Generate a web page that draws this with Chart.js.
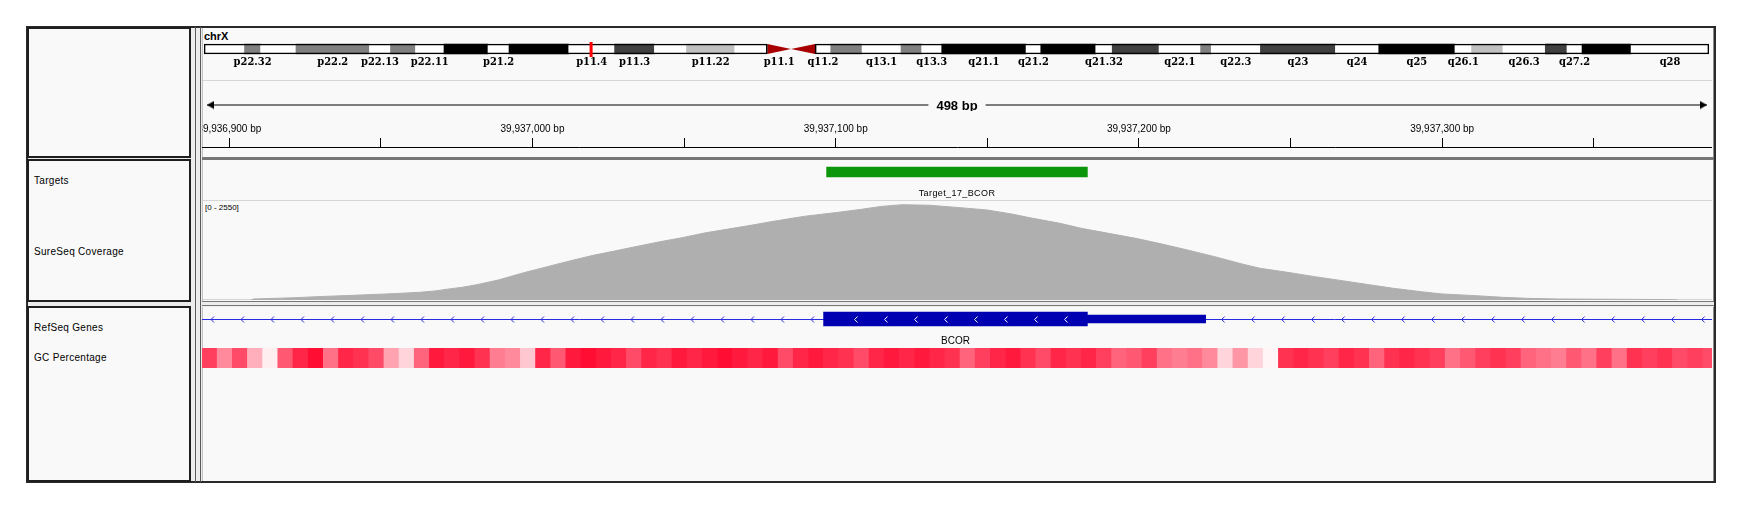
<!DOCTYPE html>
<html lang="en">
<head>
<meta charset="UTF-8" />
<title>BCOR chrX:39,936,891-39,937,389</title>
<style>
  * { box-sizing: border-box; margin: 0; padding: 0; }
  html, body { width: 1741px; height: 510px; background: #fff; overflow: hidden; }
  body { position: relative; font-family: "Liberation Sans", Arial, sans-serif; color: #000; }
  .abs, canvas { position: absolute; }
  .frame { left: 26px; top: 26px; width: 1690px; height: 457px; border: 2px solid #2a2a2a; background: #ececec; }
  .names { left: 27px; width: 164px; border: 2px solid #1e1e1e; background: #f9f9f9; }
  .vline { top: 27px; width: 1px; height: 455px; background: #5a5a5a; }
  .data { left: 202px; width: 1512px; background: #f9f9f9; border-left: 1px solid #c4c4c4; border-right: 1px solid #8a8a8a; }
  .hsep { left: 202px; width: 1512px; background: #767676; }
  .thin { left: 203px; width: 1509px; height: 1px; background: #d6d6d6; }
  .lbl { left: 34px; font-size: 10px; letter-spacing: 0.3px; line-height: 12px; white-space: nowrap; }
</style>
</head>
<body>
  <div class="abs frame"></div>
  <div class="abs names" style="top:27px;height:131px"></div>
  <div class="abs names" style="top:159px;height:143px"></div>
  <div class="abs names" style="top:306px;height:176px"></div>
  <div class="abs vline" style="left:195px"></div>
  <div class="abs vline" style="left:200px"></div>

  <div class="abs data" style="top:28px;height:129px"></div>
  <div class="abs hsep" style="top:157px;height:3px"></div>
  <div class="abs data" style="top:160px;height:141px"></div>
  <div class="abs hsep" style="top:301px;height:1px"></div>
  <div class="abs hsep" style="top:305px;height:1px"></div>
  <div class="abs data" style="top:307px;height:174px"></div>
  <div class="abs thin" style="top:80px"></div>
  <div class="abs thin" style="top:200px"></div>

  <div class="abs" style="left:204px;top:30px;font-size:11px;font-weight:bold;line-height:12px">chrX</div>
  <div class="abs lbl" style="top:175px">Targets</div>
  <div class="abs lbl" style="top:246px">SureSeq Coverage</div>
  <div class="abs lbl" style="top:322px">RefSeq Genes</div>
  <div class="abs lbl" style="top:352px">GC Percentage</div>
  <div class="abs" style="left:205px;top:203px;font-size:8px;line-height:10px">[0 - 2550]</div>

  <canvas id="ideo" width="1505" height="28" style="left:204px;top:40px"></canvas>
  <canvas id="span" width="1510" height="12" style="left:202px;top:99px"></canvas>
  <canvas id="ruler" width="1510" height="60" style="left:202px;top:120px"></canvas>
  <canvas id="targets" width="1510" height="40" style="left:202px;top:160px"></canvas>
  <canvas id="coverage" width="1510" height="99" style="left:202px;top:201px"></canvas>
  <canvas id="genes" width="1510" height="40" style="left:202px;top:307px"></canvas>
  <canvas id="gc" width="1510" height="20" style="left:202px;top:348px"></canvas>

  <script src="https://cdn.jsdelivr.net/npm/chart.js"></script>
  <script>
    // view
    const chrLength = 155.27; // Mb
    const viewStart = 39936891;
    const viewEnd = 39937389;
    const rulerStep = 50;
    const rulerLabelStep = 100;

    // chrX cytobands (Mb)
    const bandNames = ['p22.33','p22.32','p22.31','p22.2','p22.13','p22.12','p22.11','p21.3','p21.2','p21.1',
      'p11.4','p11.3','p11.23','p11.22','p11.21','p11.1','q11.1','q11.2','q12','q13.1','q13.2','q13.3',
      'q21.1','q21.2','q21.31','q21.32','q21.33','q22.1','q22.2','q22.3','q23','q24','q25',
      'q26.1','q26.2','q26.3','q27.1','q27.2','q27.3','q28'];
    const bandStart = [0, 4.18, 5.84, 9.49, 17.07, 19.24, 21.82, 24.76, 29.30, 31.47,
      37.63, 42.36, 46.47, 49.78, 54.75, 58.12, 60.56, 63.04, 64.66, 67.89, 71.91, 74.04,
      76.11, 84.81, 86.33, 92.00, 93.70, 98.53, 102.82, 103.92, 108.99, 116.73, 121.20,
      129.06, 130.78, 134.01, 138.38, 140.62, 142.17, 147.23];
    const bandStain = ['gneg','gpos50','gneg','gpos50','gneg','gpos50','gneg','gpos100','gneg','gpos100',
      'gneg','gpos75','gneg','gpos25','gneg','acen','acen','gneg','gpos50','gneg','gpos50','gneg',
      'gpos100','gneg','gpos100','gneg','gpos75','gneg','gpos50','gneg','gpos75','gneg','gpos100',
      'gneg','gpos25','gneg','gpos75','gneg','gpos100','gneg'];
    const shownBands = ['p22.32','p22.2','p22.13','p22.11','p21.2','p11.4','p11.3','p11.22','p11.1',
      'q11.2','q13.1','q13.3','q21.1','q21.2','q21.32','q22.1','q22.3','q23','q24','q25',
      'q26.1','q26.3','q27.2','q28'];

    // Targets track
    const targetName = 'Target_17_BCOR';
    const targetStart = 39937097;
    const targetEnd = 39937183;

    // SureSeq coverage (bp position, depth)
    const coverageMax = 2550;
    const covPos = [39936891, 39936907, 39936908, 39936922, 39936929, 39936939, 39936950, 39936956, 39936963,
      39936968, 39936972, 39936977, 39936982, 39936989, 39936997, 39937001, 39937008, 39937013,
      39937020, 39937027, 39937035, 39937042, 39937049, 39937057, 39937064, 39937071, 39937079,
      39937086, 39937090, 39937101, 39937108, 39937111, 39937115, 39937122, 39937131, 39937141,
      39937150, 39937158, 39937165, 39937174, 39937181, 39937190, 39937199, 39937208, 39937216,
      39937225, 39937234, 39937240, 39937249, 39937258, 39937267, 39937275, 39937284, 39937293,
      39937300, 39937311, 39937320, 39937328, 39937338, 39937360, 39937377, 39937378, 39937389];
    const covVal = [0, 0, 26, 60, 86, 115, 150, 170, 200,
      235, 280, 330, 400, 520, 700, 780, 920, 1020,
      1150, 1260, 1390, 1500, 1600, 1730, 1820, 1910, 2020,
      2110, 2160, 2260, 2330, 2365, 2410, 2455, 2440, 2378,
      2318, 2215, 2104, 1975, 1846, 1717, 1588, 1434, 1288,
      1116, 927, 816, 713, 601, 498, 404, 300, 215,
      155, 112, 69, 43, 26, 17, 9, 0, 0];

    // RefSeq gene
    const geneName = 'BCOR';
    const cdsStart = 39937096;
    const cdsEnd = 39937183;
    const utrEnd = 39937222;

    // GC percentage, 5 bp bins from viewStart
    const gcBinSize = 5;
    const gcLevel = [75, 45, 70, 30, 5, 65, 85, 95, 55, 85,
      80, 70, 35, 15, 60, 90, 85, 90, 80, 50,
      45, 20, 85, 65, 90, 95, 90, 85, 70, 85,
      80, 90, 85, 90, 95, 90, 85, 90, 70, 85,
      90, 85, 80, 70, 85, 90, 85, 90, 85, 80,
      60, 75, 85, 90, 80, 70, 85, 80, 85, 75,
      60, 65, 75, 55, 50, 55, 45, 15, 40, 15,
      2, 80, 85, 80, 75, 85, 80, 60, 80, 85,
      80, 75, 55, 65, 75, 80, 75, 60, 55, 50,
      65, 55, 75, 55, 80, 75, 80, 70, 75, 70];

    Chart.defaults.animation = false;
    Chart.defaults.events = [];
    Chart.defaults.font.family = '"Liberation Sans", Arial, sans-serif';
    Chart.defaults.plugins.legend.display = false;
    Chart.defaults.plugins.tooltip.enabled = false;

    function trackOptions(xMin, xMax, yMax, extra) {
      return Object.assign({
        responsive: false,
        layout: { padding: 0 },
        scales: {
          x: { type: 'linear', min: xMin, max: xMax, offset: false, display: false },
          y: { type: 'linear', min: 0, max: yMax, reverse: true, offset: false, display: false }
        }
      }, extra);
    }

    function textPlugin(id, draw) {
      return { id: id, afterDatasetsDraw(chart) {
        const ctx = chart.ctx;
        ctx.save();
        ctx.fillStyle = '#000';
        ctx.textAlign = 'center';
        ctx.textBaseline = 'middle';
        draw(ctx, chart.scales.x, chart.scales.y);
        ctx.restore();
      } };
    }

    // ---- ideogram ----
    const bandEnd = bandStart.map((s, i) => i + 1 < bandStart.length ? bandStart[i + 1] : chrLength);
    const stainColor = { gneg: '#ffffff', gpos25: '#c0c0c0', gpos50: '#808080', gpos75: '#404040', gpos100: '#000000', acen: '#a80000' };
    const solid = bandNames.map((n, i) => i).filter(i => bandStain[i] !== 'acen');
    const acen = bandNames.map((n, i) => i).filter(i => bandStain[i] === 'acen');
    const cenStart = bandStart[acen[0]], cenMid = bandEnd[acen[0]], cenEnd = bandEnd[acen[1]];
    const locusMb = (viewStart + viewEnd) / 2 / 1e6;

    const bandLabels = textPlugin('bandLabels', (ctx, x, y) => {
      ctx.font = 'bold 11px "DejaVu Serif Condensed", serif';
      bandNames.forEach((name, i) => {
        if (shownBands.includes(name)) {
          ctx.fillText(name, x.getPixelForValue((bandStart[i] + bandEnd[i]) / 2), y.getPixelForValue(22));
        }
      });
    });

    new Chart(document.getElementById('ideo'), {
      type: 'bar',
      data: {
        datasets: [
          {
            data: solid.map(i => ({ x: [bandStart[i], bandEnd[i]], y: 9 })),
            backgroundColor: solid.map(i => stainColor[bandStain[i]]),
            barThickness: 10, grouped: false, order: 4
          },
          {
            type: 'line', data: [{ x: cenStart, y: 4 }, { x: cenMid, y: 9 }, { x: cenStart, y: 14 }],
            fill: 'shape', backgroundColor: stainColor.acen, borderColor: 'rgba(0,0,0,0)', pointRadius: 0, order: 3
          },
          {
            type: 'line', data: [{ x: cenEnd, y: 4 }, { x: cenMid, y: 9 }, { x: cenEnd, y: 14 }],
            fill: 'shape', backgroundColor: stainColor.acen, borderColor: 'rgba(0,0,0,0)', pointRadius: 0, order: 2
          },
          {
            data: [{ x: [0, cenStart], y: 9 }, { x: [cenEnd, chrLength], y: 9 }],
            backgroundColor: 'rgba(0,0,0,0)', borderColor: '#000', borderWidth: 1, borderSkipped: false,
            barThickness: 10, grouped: false, order: 1
          },
          {
            type: 'line', data: [{ x: locusMb, y: 2 }, { x: locusMb, y: 17 }],
            borderColor: '#ff0000', borderWidth: 3, pointRadius: 0, order: 0
          }
        ]
      },
      options: trackOptions(0, chrLength, 28, { indexAxis: 'y' }),
      plugins: [bandLabels]
    });

    // ---- span arrow ----
    function arrowHead(dir) {
      const c = document.createElement('canvas');
      c.width = 16; c.height = 9;
      const g = c.getContext('2d');
      g.fillStyle = '#000';
      g.beginPath();
      g.moveTo(8, 4.5);
      g.lineTo(8 - dir * 7, 0.5);
      g.lineTo(8 - dir * 7, 8.5);
      g.closePath();
      g.fill();
      return c;
    }
    const spanLabel = textPlugin('spanLabel', (ctx, x, y) => {
      const label = (viewEnd - viewStart) + ' bp';
      const cx = x.getPixelForValue((viewStart + viewEnd) / 2), cy = y.getPixelForValue(0.5);
      ctx.font = 'bold 13px "Liberation Sans", Arial, sans-serif';
      const w = ctx.measureText(label).width;
      ctx.fillStyle = '#f9f9f9';
      ctx.fillRect(cx - w / 2 - 8, 0, w + 16, 12);
      ctx.fillStyle = '#000';
      ctx.fillText(label, cx, cy + 1);
    });
    new Chart(document.getElementById('span'), {
      type: 'line',
      data: {
        datasets: [{
          data: [{ x: viewStart, y: 0.5 }, { x: viewEnd, y: 0.5 }],
          borderColor: '#000', borderWidth: 1,
          pointStyle: [arrowHead(-1), arrowHead(1)], pointRadius: 4, clip: false
        }]
      },
      options: trackOptions(viewStart, viewEnd, 1),
      plugins: [spanLabel]
    });

    // ---- bp ruler ----
    new Chart(document.getElementById('ruler'), {
      type: 'line',
      data: { datasets: [] },
      options: {
        responsive: false,
        layout: { padding: 0 },
        scales: {
          x: {
            type: 'linear', position: 'top', min: viewStart, max: viewEnd, offset: false,
            grid: { drawOnChartArea: false, drawTicks: true, tickLength: 9, color: '#000', lineWidth: 1 },
            border: { display: true, color: '#000', width: 1 },
            ticks: {
              autoSkip: false, maxRotation: 0, minRotation: 0,
              padding: 3, color: '#000', font: { size: 10 },
              callback: v => v % rulerLabelStep === 0 ? v.toLocaleString('en-US') + ' bp' : ''
            },
            afterBuildTicks: s => {
              const ticks = [];
              for (let v = Math.ceil(s.min / rulerStep) * rulerStep; v <= s.max; v += rulerStep) ticks.push({ value: v });
              s.ticks = ticks;
            },
            afterFit: s => { s.paddingLeft = 0; s.paddingRight = 0; }
          },
          y: { display: false, min: 0, max: 1 }
        }
      }
    });

    // ---- targets ----
    const targetLabel = textPlugin('targetLabel', (ctx, x, y) => {
      ctx.font = '9px "Liberation Sans", Arial, sans-serif';
      ctx.letterSpacing = '0.4px';
      ctx.fillText(targetName, x.getPixelForValue((targetStart + targetEnd) / 2), y.getPixelForValue(34));
    });
    new Chart(document.getElementById('targets'), {
      type: 'bar',
      data: { datasets: [{ data: [{ x: [targetStart, targetEnd], y: 12 }], backgroundColor: '#0c960c', barThickness: 10, grouped: false }] },
      options: trackOptions(viewStart, viewEnd, 40, { indexAxis: 'y' }),
      plugins: [targetLabel]
    });

    // ---- coverage ----
    const covOptions = trackOptions(viewStart, viewEnd, coverageMax);
    covOptions.scales.y.reverse = false;
    new Chart(document.getElementById('coverage'), {
      type: 'line',
      data: {
        datasets: [{
          data: covPos.map((p, i) => ({ x: p, y: covVal[i] })),
          fill: 'origin', backgroundColor: '#afafaf', borderColor: '#afafaf', borderWidth: 1,
          pointRadius: 0, tension: 0
        }]
      },
      options: covOptions
    });

    // ---- RefSeq gene ----
    const geneDecor = textPlugin('geneDecor', (ctx, x, y) => {
      const yc = y.getPixelForValue(12.5);
      const chevrons = (a, b, color, offset) => {
        ctx.strokeStyle = color;
        ctx.lineWidth = 1;
        for (let px = a + offset; px < b - 4; px += 30) {
          ctx.beginPath();
          ctx.moveTo(px + 2, yc - 3);
          ctx.lineTo(px - 1, yc);
          ctx.lineTo(px + 2, yc + 3);
          ctx.stroke();
        }
      };
      chevrons(x.getPixelForValue(viewStart), x.getPixelForValue(cdsStart), '#2a2ae0', 10);
      chevrons(x.getPixelForValue(cdsStart), x.getPixelForValue(cdsEnd), '#ffffff', 32);
      chevrons(x.getPixelForValue(utrEnd), x.getPixelForValue(viewEnd), '#2a2ae0', 17);
      ctx.font = '10px "Liberation Sans", Arial, sans-serif';
      ctx.fillStyle = '#000';
      ctx.fillText(geneName, x.getPixelForValue((cdsStart + cdsEnd) / 2), y.getPixelForValue(34));
    });
    new Chart(document.getElementById('genes'), {
      type: 'bar',
      data: {
        datasets: [
          { data: [{ x: [cdsStart, cdsEnd], y: 12 }], backgroundColor: '#0000b2', barThickness: 14, grouped: false, order: 0 },
          { data: [{ x: [cdsEnd, utrEnd], y: 12 }], backgroundColor: '#0000b2', barThickness: 8, grouped: false, order: 1 },
          {
            type: 'line', data: [{ x: viewStart, y: 12.5 }, { x: viewEnd, y: 12.5 }],
            borderColor: '#2a2ae0', borderWidth: 1, pointRadius: 0, order: 2
          }
        ]
      },
      options: trackOptions(viewStart, viewEnd, 40, { indexAxis: 'y' }),
      plugins: [geneDecor]
    });

    // ---- GC percentage ----
    const gcColor = v => {
      const t = v / 100;
      return 'rgb(255,' + Math.round(250 - 250 * t) + ',' + Math.round(250 - 210 * t) + ')';
    };
    new Chart(document.getElementById('gc'), {
      type: 'bar',
      data: {
        datasets: [{
          data: gcLevel.map((v, i) => ({ x: [viewStart + i * gcBinSize, viewStart + (i + 1) * gcBinSize], y: 10 })),
          backgroundColor: gcLevel.map(gcColor), barThickness: 20, grouped: false
        }]
      },
      options: trackOptions(viewStart, viewEnd, 20, { indexAxis: 'y' })
    });
  </script>
</body>
</html>
